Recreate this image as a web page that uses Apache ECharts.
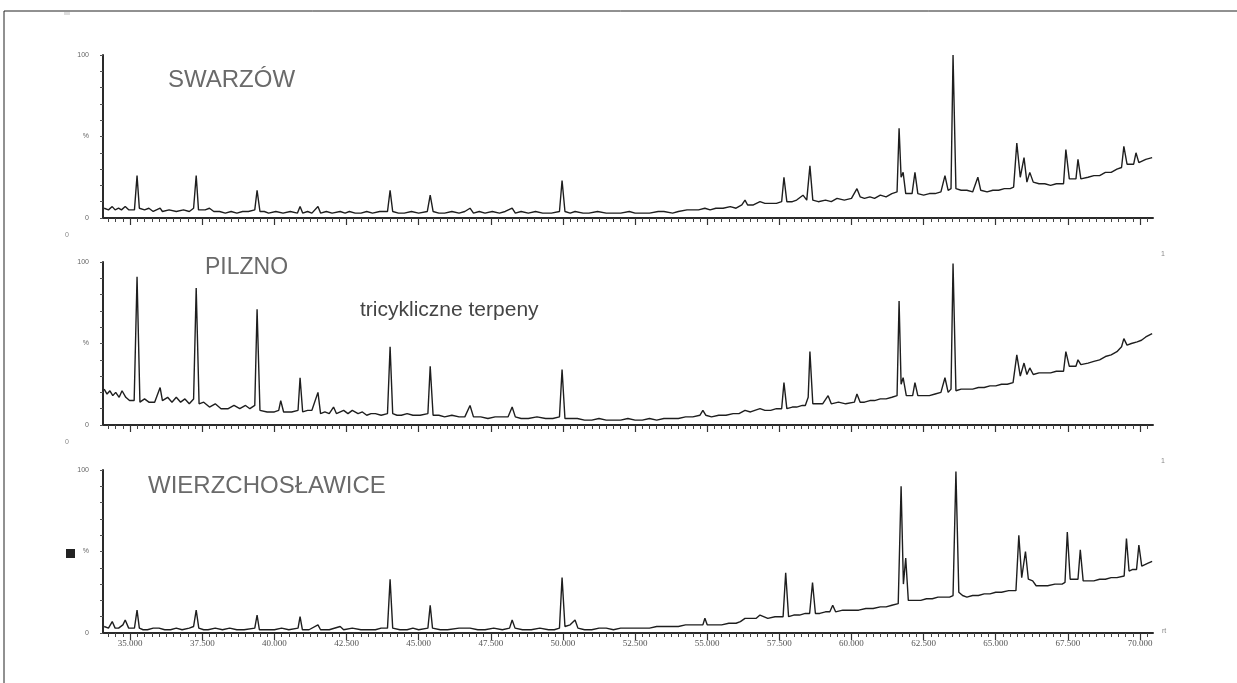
<!DOCTYPE html>
<html>
<head>
<meta charset="utf-8">
<script src="https://cdn.jsdelivr.net/npm/echarts@6/dist/echarts.min.js"></script>
<style>html,body{margin:0;padding:0;background:#fff;}#c{width:1237px;height:683px;}</style>
</head>
<body>
<div id="c"></div>
<script>
// ---- data (retention time in min, relative abundance %) ----
const panelNames = ['SWARZÓW', 'PILZNO', 'WIERZCHOSŁAWICE'];
const annotation = 'tricykliczne terpeny';
const xTickValues = [35, 37.5, 40, 42.5, 45, 47.5, 50, 52.5, 55, 57.5, 60, 62.5, 65, 67.5, 70];
const yLabelValues = [0, 50, 100];
const yLabelTexts = ['0', '%', '100'];

const swarzow = [[34.10,6],[34.25,5],[34.38,7],[34.48,5],[34.60,6],[34.70,5],[34.83,7],[34.95,5],[35.15,5],[35.24,26],[35.32,6],[35.50,5],[35.65,6],[35.80,4],[36.04,6],[36.12,4],[36.35,5],[36.60,4],[36.85,5],[37.05,4],[37.20,6],[37.29,26],[37.37,5],[37.60,5],[37.75,6],[37.90,4],[38.10,4],[38.30,3],[38.50,4],[38.70,3],[38.90,4],[39.10,4],[39.32,5],[39.40,17],[39.50,4],[39.65,4],[39.80,3],[40.05,4],[40.30,3],[40.55,4],[40.80,3],[40.89,7],[40.98,3],[41.15,4],[41.30,3],[41.51,7],[41.60,3],[41.80,4],[42.00,3],[42.28,4],[42.45,3],[42.60,4],[42.80,3],[43.00,3],[43.20,4],[43.40,3],[43.65,4],[43.92,4],[44.01,17],[44.10,4],[44.30,3],[44.50,3],[44.75,4],[45.00,3],[45.30,4],[45.40,14],[45.50,4],[45.70,3],[45.90,3],[46.15,4],[46.40,3],[46.60,4],[46.78,6],[46.90,3],[47.10,4],[47.30,3],[47.55,4],[47.80,3],[48.00,4],[48.24,6],[48.35,3],[48.55,4],[48.80,3],[49.05,4],[49.30,3],[49.60,3],[49.88,4],[49.97,23],[50.07,4],[50.25,3],[50.42,4],[50.70,3],[50.90,3],[51.20,4],[51.50,3],[51.80,3],[52.00,3],[52.30,4],[52.50,3],[52.80,3],[53.00,3],[53.30,4],[53.50,4],[53.80,3],[54.00,4],[54.30,5],[54.50,5],[54.70,5],[54.92,6],[55.10,5],[55.30,6],[55.55,6],[55.80,7],[56.00,6],[56.20,8],[56.31,11],[56.40,8],[56.60,8],[56.83,10],[57.00,9],[57.20,9],[57.40,9],[57.58,10],[57.66,25],[57.76,10],[57.95,10],[58.10,11],[58.32,14],[58.45,11],[58.56,32],[58.66,11],[58.85,10],[59.10,11],[59.30,10],[59.50,12],[59.75,11],[60.00,12],[60.19,18],[60.30,13],[60.45,12],[60.64,13],[60.80,12],[61.00,14],[61.20,13],[61.40,15],[61.58,16],[61.65,55],[61.72,25],[61.79,28],[61.88,15],[62.10,15],[62.20,28],[62.30,15],[62.50,14],[62.70,15],[62.90,15],[63.10,16],[63.24,26],[63.35,17],[63.45,18],[63.52,100],[63.62,18],[63.80,17],[64.00,17],[64.20,16],[64.38,25],[64.48,17],[64.70,16],[64.90,17],[65.10,17],[65.30,18],[65.50,18],[65.62,19],[65.73,46],[65.85,25],[65.98,37],[66.08,22],[66.18,28],[66.30,22],[66.50,21],[66.70,21],[66.90,20],[67.10,21],[67.35,21],[67.43,42],[67.55,24],[67.78,24],[67.85,36],[67.95,24],[68.20,25],[68.40,26],[68.60,26],[68.80,28],[69.00,28],[69.20,30],[69.36,31],[69.44,44],[69.55,33],[69.78,33],[69.86,40],[69.96,34],[70.20,36],[70.42,37]];

const pilzno = [[34.10,22],[34.20,19],[34.30,21],[34.40,18],[34.50,20],[34.62,17],[34.72,21],[34.85,17],[34.98,15],[35.14,15],[35.24,91],[35.34,14],[35.50,16],[35.65,14],[35.85,14],[36.04,23],[36.12,15],[36.30,17],[36.45,14],[36.60,17],[36.75,14],[36.90,16],[37.05,13],[37.20,16],[37.29,84],[37.39,13],[37.55,14],[37.75,11],[37.95,13],[38.15,10],[38.40,10],[38.60,12],[38.80,10],[39.00,12],[39.15,10],[39.32,12],[39.40,71],[39.50,9],[39.75,8],[40.00,8],[40.15,9],[40.22,15],[40.32,8],[40.60,8],[40.82,9],[40.89,29],[40.98,8],[41.15,9],[41.30,9],[41.51,20],[41.60,7],[41.75,8],[41.90,7],[42.05,11],[42.15,7],[42.40,9],[42.55,7],[42.70,9],[42.90,7],[43.05,8],[43.20,6],[43.35,7],[43.50,7],[43.70,6],[43.92,7],[44.01,48],[44.10,7],[44.25,6],[44.40,6],[44.60,7],[44.80,6],[45.05,6],[45.32,7],[45.40,36],[45.50,6],[45.70,6],[45.90,5],[46.15,6],[46.40,5],[46.60,5],[46.78,12],[46.90,5],[47.15,5],[47.40,4],[47.65,5],[47.90,5],[48.10,5],[48.24,11],[48.35,5],[48.55,4],[48.80,4],[49.10,5],[49.40,4],[49.65,4],[49.88,5],[49.97,34],[50.07,4],[50.25,4],[50.50,4],[50.75,3],[51.00,3],[51.25,4],[51.50,3],[51.75,3],[52.00,3],[52.25,4],[52.50,3],[52.75,3],[53.00,4],[53.25,3],[53.50,4],[53.75,4],[54.00,4],[54.25,5],[54.50,5],[54.75,6],[54.85,9],[54.95,6],[55.15,5],[55.40,6],[55.65,6],[55.90,7],[56.10,7],[56.31,9],[56.50,8],[56.65,9],[56.83,10],[57.00,9],[57.20,9],[57.40,10],[57.58,10],[57.66,26],[57.76,10],[57.95,11],[58.10,11],[58.30,12],[58.40,12],[58.50,17],[58.56,45],[58.66,13],[58.85,13],[59.00,13],[59.19,18],[59.30,13],[59.55,14],[59.80,13],[60.10,14],[60.19,19],[60.30,14],[60.45,14],[60.64,15],[60.80,15],[61.00,16],[61.20,16],[61.40,17],[61.58,18],[61.65,76],[61.72,25],[61.79,29],[61.90,18],[62.12,18],[62.20,26],[62.30,18],[62.50,18],[62.70,18],[62.90,19],[63.10,20],[63.24,29],[63.35,20],[63.45,22],[63.52,99],[63.62,21],[63.80,22],[64.00,22],[64.20,22],[64.40,23],[64.60,23],[64.80,24],[65.00,24],[65.20,25],[65.40,25],[65.60,26],[65.73,43],[65.85,30],[65.98,38],[66.08,31],[66.18,35],[66.30,31],[66.50,32],[66.70,32],[66.90,32],[67.10,33],[67.35,33],[67.43,45],[67.55,36],[67.78,36],[67.85,40],[67.95,37],[68.20,38],[68.40,39],[68.60,40],[68.80,42],[69.00,43],[69.20,45],[69.36,48],[69.44,53],[69.55,49],[69.70,50],[69.90,51],[70.05,52],[70.20,54],[70.42,56]];

const wierzchoslawice = [[34.10,4],[34.25,3],[34.38,7],[34.48,3],[34.60,3],[34.75,5],[34.83,8],[34.95,3],[35.15,3],[35.24,14],[35.32,3],[35.45,2],[35.60,2],[35.80,3],[36.00,3],[36.20,2],[36.40,2],[36.60,3],[36.80,2],[37.05,3],[37.20,4],[37.29,14],[37.38,3],[37.55,2],[37.70,2],[37.95,3],[38.20,2],[38.45,3],[38.70,2],[38.95,2],[39.32,3],[39.40,11],[39.48,2],[39.75,2],[40.00,2],[40.25,3],[40.50,2],[40.82,3],[40.89,10],[40.97,2],[41.20,2],[41.51,5],[41.60,2],[41.90,2],[42.28,4],[42.40,2],[42.70,3],[43.00,2],[43.25,2],[43.50,2],[43.70,3],[43.92,3],[44.01,33],[44.10,3],[44.35,2],[44.60,2],[44.80,3],[45.00,2],[45.32,3],[45.40,17],[45.48,3],[45.75,2],[46.00,2],[46.40,3],[46.78,3],[47.05,2],[47.30,2],[47.60,3],[47.90,2],[48.15,3],[48.24,8],[48.34,3],[48.60,2],[48.90,2],[49.20,3],[49.50,2],[49.70,2],[49.88,3],[49.97,34],[50.07,4],[50.25,5],[50.42,8],[50.52,3],[50.75,2],[51.00,2],[51.25,3],[51.50,3],[51.75,2],[52.00,3],[52.25,3],[52.50,3],[52.75,3],[53.00,3],[53.25,4],[53.50,4],[53.75,4],[54.00,4],[54.25,5],[54.50,5],[54.70,5],[54.85,5],[54.92,9],[55.00,5],[55.25,5],[55.50,5],[55.75,6],[56.00,6],[56.15,7],[56.31,9],[56.50,9],[56.70,9],[56.83,11],[57.10,9],[57.35,10],[57.63,10],[57.72,37],[57.82,10],[58.00,11],[58.20,11],[58.40,12],[58.55,12],[58.65,31],[58.75,12],[58.90,12],[59.10,13],[59.25,13],[59.35,17],[59.45,13],[59.70,14],[60.00,14],[60.25,14],[60.50,15],[60.75,15],[61.00,16],[61.20,16],[61.40,17],[61.62,18],[61.72,90],[61.80,30],[61.88,46],[61.97,20],[62.20,20],[62.40,20],[62.60,21],[62.80,21],[63.00,22],[63.20,22],[63.40,22],[63.52,23],[63.62,99],[63.72,25],[63.85,23],[64.00,22],[64.20,23],[64.40,23],[64.60,24],[64.80,24],[65.00,25],[65.20,25],[65.45,26],[65.70,26],[65.80,60],[65.90,34],[66.03,50],[66.13,33],[66.28,32],[66.40,29],[66.60,29],[66.80,29],[67.05,30],[67.30,30],[67.40,31],[67.48,62],[67.58,33],[67.70,33],[67.85,33],[67.93,51],[68.03,32],[68.20,32],[68.40,32],[68.60,33],[68.80,33],[69.00,34],[69.20,34],[69.45,35],[69.53,58],[69.62,38],[69.75,39],[69.88,39],[69.96,54],[70.06,41],[70.30,43],[70.42,44]];

const panelData = [swarzow, pilzno, wierzchoslawice];

// ---- layout ----
const X_MIN = 34.06, X_MAX = 70.45;
const gridTops = [55, 262, 470];
const gridH = 163;
const minorTicks = [];
for (let i = 0; i <= 150; i++) { const v = 34.25 + i * 0.25; if (v < X_MAX) minorTicks.push(+v.toFixed(2)); }
const yTicks = [0,10,20,30,40,50,60,70,80,90,100];

const chart = echarts.init(document.getElementById('c'), null, {renderer: 'canvas'});
const grids = [], xAxes = [], yAxes = [], series = [];
panelData.forEach((d, i) => {
  grids.push({left: 103, right: 84, top: gridTops[i], height: gridH, containLabel: false});
  xAxes.push({
    gridIndex: i, type: 'value', min: X_MIN, max: X_MAX,
    axisLine: {show: true, onZero: false, lineStyle: {color: '#2a2a2a', width: 2}},
    axisTick: {show: true, customValues: minorTicks, length: 4, lineStyle: {color: '#444', width: 1}},
    axisLabel: {show: false}, splitLine: {show: false}
  });
  xAxes.push({
    gridIndex: i, type: 'value', min: X_MIN, max: X_MAX, position: 'bottom',
    axisLine: {show: false},
    axisTick: {show: true, customValues: xTickValues, length: 7, lineStyle: {color: '#333', width: 1.2}},
    axisLabel: {show: i === 2, customValues: xTickValues, formatter: v => v.toFixed(3),
      color: '#555', fontSize: 9, fontFamily: 'Liberation Serif', margin: 6},
    splitLine: {show: false}
  });
  yAxes.push({
    gridIndex: i, type: 'value', min: 0, max: 100,
    axisLine: {show: true, lineStyle: {color: '#2a2a2a', width: 2}},
    axisTick: {show: true, customValues: yTicks, length: 3, lineStyle: {color: '#555'}},
    axisLabel: {show: true, customValues: yLabelValues,
      formatter: v => yLabelTexts[yLabelValues.indexOf(v)],
      color: '#666', fontSize: 7, fontFamily: 'Liberation Sans', margin: 14},
    splitLine: {show: false}
  });
  series.push({
    type: 'line', xAxisIndex: i * 2, yAxisIndex: i, data: d,
    showSymbol: false, symbol: 'none', smooth: false,
    lineStyle: {color: '#1e1e1e', width: 1.4}, silent: true
  });
});

const txt = (x, y, s, size, color, extra) => Object.assign({
  type: 'text', left: x, top: y,
  style: {text: s, fontSize: size, fill: color, fontFamily: 'Liberation Sans'}
}, extra || {});

chart.setOption({
  animation: false,
  backgroundColor: '#fff',
  grid: grids, xAxis: xAxes, yAxis: yAxes, series: series,
  graphic: [
    {type: 'line', shape: {x1: 4, y1: 11, x2: 1237, y2: 11}, style: {stroke: '#222', lineWidth: 1}},
    {type: 'line', shape: {x1: 4, y1: 11, x2: 4, y2: 683}, style: {stroke: '#222', lineWidth: 1}},
    txt(168, 68, panelNames[0], 24, '#6a6a6a'),
    txt(205, 256, panelNames[1], 23, '#6a6a6a'),
    txt(148, 474, panelNames[2], 24, '#6a6a6a'),
    txt(360, 300, annotation, 21, '#444'),
    txt(65, 232, '0', 7, '#888'),
    txt(65, 439, '0', 7, '#888'),
    txt(1161, 251, '1', 7, '#888'),
    txt(1161, 458, '1', 7, '#888'),
    txt(1162, 628, 'rt', 7, '#888'),
    {type: 'rect', shape: {x: 66, y: 549, width: 9, height: 9}, style: {fill: '#222'}},
    {type: 'rect', shape: {x: 64, y: 12, width: 6, height: 3}, style: {fill: '#ddd'}}
  ]
});
</script>
</body>
</html>
